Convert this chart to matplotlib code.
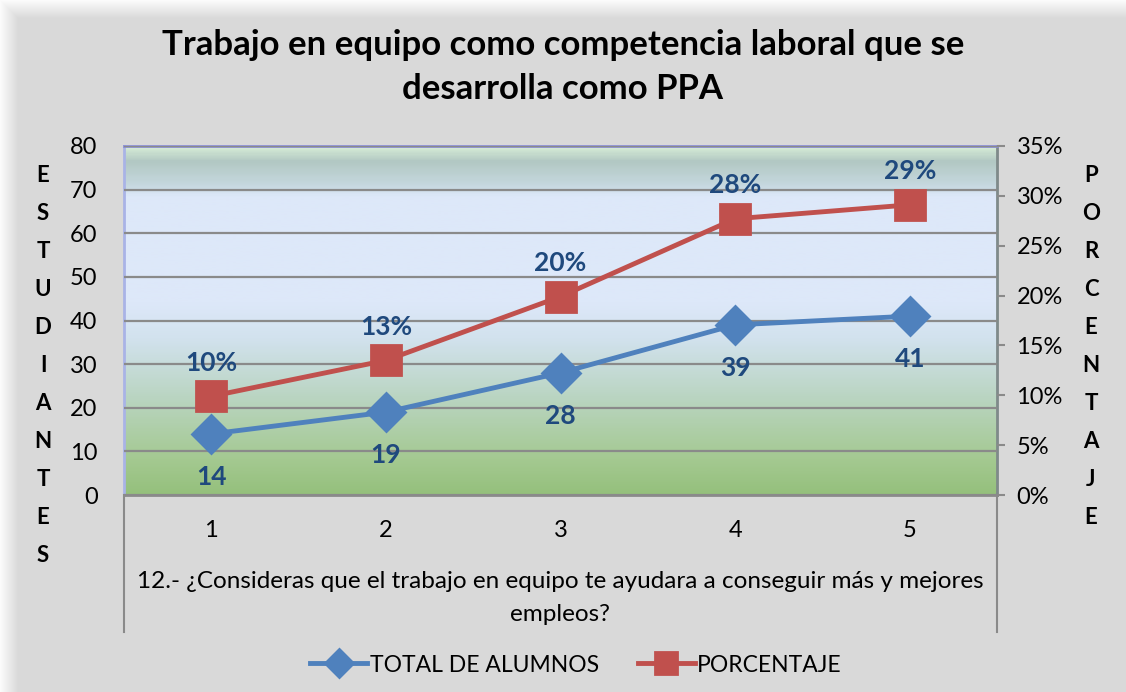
import numpy as np
import matplotlib.pyplot as plt
from matplotlib.colors import LinearSegmentedColormap
from matplotlib.ticker import PercentFormatter

categories = [1, 2, 3, 4, 5]
total_alumnos = [14, 19, 28, 39, 41]
porcentaje = [0.099, 0.135, 0.199, 0.277, 0.291]
pct_labels = ['10%', '13%', '20%', '28%', '29%']

title = 'Trabajo en equipo como competencia laboral que se\ndesarrolla como PPA'
x_title = '12.- ¿Consideras que el trabajo en equipo te ayudara a conseguir más y mejores\nempleos?'
left_title = 'ESTUDIANTES'
right_title = 'PORCENTAJE'

plt.rcParams['font.family'] = ['Lato', 'DejaVu Sans']

BLUE = '#4f81bd'
RED = '#c0504d'
LABEL = '#1f497d'

W, H = 1126, 692
fig = plt.figure(figsize=(W / 100, H / 100), dpi=100, facecolor='#d9d9d9')

# faint light edge at top and left of the chart area
bg = fig.add_axes([0, 0, 1, 1], zorder=-10)
yy, xx = np.mgrid[0:H, 0:W]
shade = np.clip(np.minimum(yy / 18.0, xx / 18.0), 0, 1)
bg.imshow(shade, cmap=LinearSegmentedColormap.from_list('edge', ['#fbfbfb', '#d9d9d9']),
          aspect='auto', extent=[0, 1, 0, 1], origin='upper')
bg.axis('off')

x0, x1, yb, yt = 124, 997, 495, 146
ax = fig.add_axes([x0 / W, 1 - yb / H, (x1 - x0) / W, (yb - yt) / H])

# plot-area gradient
stops = [(0.0, '#95c07c'), (0.10, '#a4c991'), (0.28, '#bad5c2'), (0.45, '#d2e2ee'),
         (0.55, '#dde8f9'), (0.86, '#dde8f9'), (0.89, '#c6d8df'), (0.96, '#b2c8c3'),
         (1.0, '#d6ecd6')]
grad = LinearSegmentedColormap.from_list('plotbg', stops)
ax.imshow(np.linspace(0, 1, 300).reshape(-1, 1), cmap=grad, aspect='auto',
          extent=[0.5, 5.5, 0, 80], origin='lower', zorder=0)

ax.set_xlim(0.5, 5.5)
ax.set_ylim(0, 80)
ax.set_yticks(range(0, 81, 10))
ax.set_xticks(categories)
ax.tick_params(axis='y', length=0, labelsize=17, pad=19)
ax.tick_params(axis='x', length=0, labelsize=17, pad=18)
ax.grid(axis='y', color='#8a8a8a', lw=1.6, zorder=1)
ax.set_axisbelow(False)
for s, c in [('top', '#8c8fd4'), ('left', '#a9b3e6'), ('right', '#7f8a8a'), ('bottom', '#8a8a8a')]:
    ax.spines[s].set_color(c)
    ax.spines[s].set_linewidth(2)

ax.plot(categories, total_alumnos, color=BLUE, lw=3.5, marker='D', markersize=19,
        markeredgewidth=2, markeredgecolor=BLUE, solid_joinstyle='round', zorder=5,
        label='TOTAL DE ALUMNOS')
for x, v in zip(categories, total_alumnos):
    ax.annotate(str(v), (x, v), xytext=(0, -31), textcoords='offset points',
                ha='center', va='center', fontsize=19, fontweight='bold', color=LABEL,
                zorder=7)

ax2 = ax.twinx()
ax2.set_ylim(0, 0.35)
ax2.set_yticks(np.arange(0, 0.36, 0.05))
ax2.yaxis.set_major_formatter(PercentFormatter(1.0, decimals=0))
ax2.tick_params(axis='y', length=6, width=1.5, color='#8a8a8a', labelsize=17, pad=8)
for s in ax2.spines.values():
    s.set_visible(False)
ax2.plot(categories, porcentaje, color=RED, lw=3.5, marker='s', markersize=21,
         markeredgewidth=2, markeredgecolor=RED, zorder=5, label='PORCENTAJE')
for x, v, lab in zip(categories, porcentaje, pct_labels):
    ax2.annotate(lab, (x, v), xytext=(0, 24), textcoords='offset points',
                 ha='center', va='center', fontsize=19, fontweight='bold', color=LABEL)

# title
fig.text(0.5, 1 - 67 / H, title, ha='center', va='center', fontsize=25,
         fontweight='bold', linespacing=1.45)

# stacked axis titles
for i, ch in enumerate(left_title):
    fig.text(43 / W, 1 - (175 + i * 38.0) / H, ch, ha='center', va='center',
             fontsize=16, fontweight='bold')
for i, ch in enumerate(right_title):
    fig.text(1091 / W, 1 - (175 + i * 38.0) / H, ch, ha='center', va='center',
             fontsize=16, fontweight='bold')

# category axis box and title
for xv in (x0, x1):
    fig.add_artist(plt.Line2D([xv / W, xv / W], [1 - yb / H, 1 - 632 / H],
                              color='#8a8a8a', lw=1.5))
fig.text(560 / W, 1 - 598 / H, x_title, ha='center', va='center', fontsize=17.5,
         linespacing=1.75)

# legend
h1, l1 = ax.get_legend_handles_labels()
h2, l2 = ax2.get_legend_handles_labels()
fig.legend(h1 + h2, l1 + l2, loc='center', bbox_to_anchor=(576 / W, 1 - 665 / H), ncol=2,
           frameon=False, fontsize=16.5, handlelength=2.5, handletextpad=0.1,
           columnspacing=1.7, markerscale=0.75)

fig.savefig('out.png', dpi=100, facecolor=fig.get_facecolor())
